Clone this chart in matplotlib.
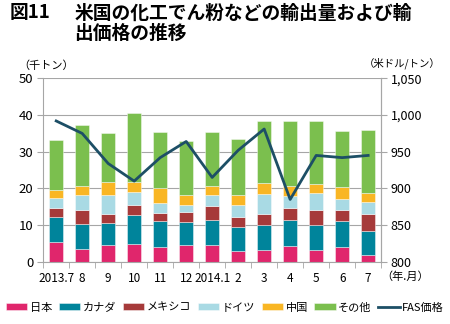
import numpy as np
import matplotlib
matplotlib.use("Agg")
import matplotlib.pyplot as plt

plt.rcParams['font.family'] = ['Noto Sans CJK JP', 'DejaVu Sans']

# 年.月
months = ['2013.7', '8', '9', '10', '11', '12', '2014.1', '2', '3', '4', '5', '6', '7']

# 輸出量（千トン）
japan   = [5.5, 3.4, 4.5, 4.9, 4.1, 4.5, 4.5, 2.9, 3.1, 4.2, 3.3, 4.0, 1.8]
canada  = [6.6, 7.0, 6.0, 7.9, 7.0, 6.4, 7.0, 6.6, 6.8, 7.3, 6.7, 7.0, 6.6]
mexico  = [2.7, 3.8, 2.6, 2.7, 2.3, 2.6, 3.8, 2.8, 3.0, 3.2, 4.1, 3.2, 4.7]
germany = [2.7, 3.9, 5.0, 3.5, 2.5, 2.0, 2.8, 3.1, 5.5, 3.2, 4.6, 3.0, 3.2]
china   = [2.0, 2.5, 3.7, 2.8, 4.1, 2.8, 2.7, 2.8, 3.1, 2.9, 2.6, 3.3, 2.5]
others  = [13.7, 16.7, 13.2, 18.9, 15.5, 14.5, 14.7, 15.3, 17.0, 17.6, 17.2, 15.2, 17.0]

# FAS価格（米ドル/トン）
fas = [992, 975, 934, 910, 942, 964, 915, 952, 981, 885, 945, 942, 945]

series = [
    ('日本', japan, '#E0266C'),
    ('カナダ', canada, '#00849B'),
    ('メキシコ', mexico, '#A63A3A'),
    ('ドイツ', germany, '#A9DAE4'),
    ('中国', china, '#F9B624'),
    ('その他', others, '#7BBF4E'),
]

fig = plt.figure(figsize=(4.5, 3.24), dpi=100)
ax = fig.add_axes([0.096, 0.192, 0.751, 0.566])
x = np.arange(len(months))

bottom = np.zeros(len(months))
handles = []
for name, vals, col in series:
    b = ax.bar(x, vals, 0.56, bottom=bottom, color=col, edgecolor=(1, 1, 1, 0.6),
               linewidth=0.5, zorder=2, label=name)
    handles.append(b)
    bottom += np.array(vals)

grid_c = '#A6A6A6'
ax.set_ylim(0, 50)
ax.set_yticks(range(0, 51, 10))
ax.set_xlim(-0.5, len(months) - 0.5)
ax.yaxis.grid(True, color=grid_c, linewidth=0.8, zorder=0)
ax.set_axisbelow(True)
ax.set_xticks(x)
ax.set_xticklabels(months)
ax.set_xticks(np.arange(-0.5, len(months), 1), minor=True)
ax.tick_params(axis='x', which='major', length=0, pad=7, labelsize=8.5)
ax.tick_params(axis='x', which='minor', length=4, color=grid_c, direction='out')
ax.tick_params(axis='y', length=4, color=grid_c, labelsize=9.5, pad=3)
ax.spines['top'].set_visible(False)
for s in ['left', 'bottom', 'right']:
    ax.spines[s].set_color(grid_c)

ax2 = ax.twinx()
ax2.set_ylim(800, 1050)
ax2.set_yticks(range(800, 1051, 50))
ax2.set_yticklabels([f'{v:,}' for v in range(800, 1051, 50)])
ax2.tick_params(axis='y', length=4, color=grid_c, labelsize=9, pad=3)
for s in ['top', 'left', 'bottom']:
    ax2.spines[s].set_visible(False)
ax2.spines['right'].set_color(grid_c)
line, = ax2.plot(x, fas, color='#1D4F66', linewidth=2.0, zorder=3, label='FAS価格')
handles.append(line)

# 見出し
fig.text(0.022, 0.943, '図11', fontsize=13.5, fontweight='bold', va='baseline')
fig.text(0.165, 0.943, '米国の化工でん粉などの輸出量および輸', fontsize=13.5,
         fontweight='bold', va='baseline')
fig.text(0.165, 0.881, '出価格の推移', fontsize=13.5, fontweight='bold', va='baseline')

fig.text(0.04, 0.797, '（千トン）', fontsize=8, va='center')
fig.text(0.978, 0.805, '（米ドル/トン）', fontsize=7.5, va='center', ha='right')
fig.text(0.848, 0.145, '（年.月）', fontsize=8, va='center')

fig.legend(handles=handles, labels=[h.get_label() for h in handles],
           loc='center', bbox_to_anchor=(0.5, 0.05), ncol=7, frameon=False,
           fontsize=8, handlelength=1.9, handleheight=0.6, handletextpad=0.25,
           columnspacing=0.6, borderaxespad=0, borderpad=0)

fig.savefig('out.png', dpi=100)
